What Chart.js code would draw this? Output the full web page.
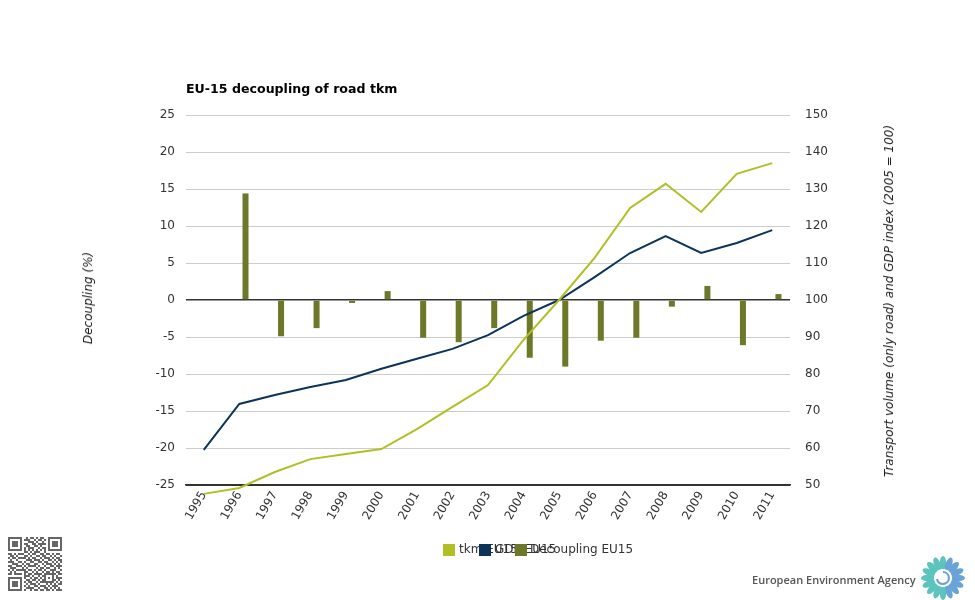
<!DOCTYPE html>
<html>
<head>
<meta charset="utf-8">
<script src="https://cdn.jsdelivr.net/npm/chart.js@4/dist/chart.umd.min.js"></script>
<style>
  html, body { margin: 0; padding: 0; background: #fff; }
  #wrap { position: relative; width: 975px; height: 600px; overflow: hidden; font-family: "DejaVu Sans", Verdana, sans-serif; }
  #c { position: absolute; left: 0; top: 0; }
  .abs { position: absolute; white-space: nowrap; color: #333; }
  #title { left: 186px; top: 81px; font-weight: bold; font-size: 12.6px; color: #000; }
  .ytitle { font-style: italic; font-size: 12px; color: #222; transform-origin: center center; }
  #lt { left: 88px; top: 298px; transform: translate(-50%, -50%) rotate(-90deg); }
  #rt { left: 889px; top: 301px; transform: translate(-50%, -50%) rotate(-90deg); }
  .sw { position: absolute; width: 12px; height: 12px; }
  .lt { position: absolute; font-size: 12px; color: #333; top: 542px; }
  #eea { left: 752px; top: 572px; font-family: "Open Sans", "Liberation Sans", sans-serif; font-weight: 600; font-size: 11px; color: #555; }
</style>
</head>
<body>
<div id="wrap">
  <canvas id="c" width="975" height="600"></canvas>
  <div id="title" class="abs">EU-15 decoupling of road tkm</div>
  <div id="lt" class="abs ytitle">Decoupling (%)</div>
  <div id="rt" class="abs ytitle">Transport volume (only road) and GDP index (2005 = 100)</div>
  <div id="legend"></div>
  <div id="eea" class="abs">European Environment Agency</div>
  <svg id="logo" style="position:absolute;left:920px;top:555px" width="48" height="46" viewBox="0 0 48 46"></svg>
  <svg id="qr" style="position:absolute;left:8px;top:537px" width="54" height="54" viewBox="0 0 27 27"></svg>
</div>
<script>
// ---- data ----
const years = ['1995','1996','1997','1998','1999','2000','2001','2002','2003','2004','2005','2006','2007','2008','2009','2010','2011'];
const tkmEU15 = [47.6, 49.2, 53.5, 57.0, 58.4, 59.7, 65.1, 71.1, 77.0, 89.2, 100, 111.4, 124.9, 131.4, 123.8, 134.1, 137.0];
const gdpEU15 = [59.5, 71.9, 74.3, 76.5, 78.4, 81.4, 84.1, 86.8, 90.5, 95.7, 100, 106.2, 112.7, 117.3, 112.7, 115.4, 118.9];
const decouplingEU15 = [null, 14.4, -4.9, -3.8, -0.4, 1.2, -5.1, -5.7, -3.8, -7.8, -9.0, -5.5, -5.1, -0.9, 1.9, -6.1, 0.8];
const leftTicks = { min: -25, max: 25, step: 5 };
const rightTicks = { min: 50, max: 150, step: 10 };

const seriesNames = ['tkm EU15', 'GDP EU15', 'Decoupling EU15'];
const colors = { tkm: '#b1bf25', gdp: '#0b3458', dec: '#6e7829' };

// ---- legend (HTML, overlapping as in the original) ----
const legend = document.getElementById('legend');
const legItems = [
  { name: seriesNames[0], color: colors.tkm, sx: 443, tx: 459 },
  { name: seriesNames[1], color: colors.gdp, sx: 479, tx: 495 },
  { name: seriesNames[2], color: colors.dec, sx: 515, tx: 530 }
];
legItems.forEach(it => {
  const t = document.createElement('div');
  t.className = 'lt'; t.style.left = it.tx + 'px'; t.textContent = it.name;
  legend.appendChild(t);
});
legItems.forEach(it => {
  const s = document.createElement('div');
  s.className = 'sw'; s.style.left = it.sx + 'px'; s.style.top = '544px'; s.style.background = it.color;
  legend.appendChild(s);
});

// ---- chart ----
Chart.defaults.font.family = '"DejaVu Sans", Verdana, sans-serif';
Chart.defaults.font.size = 12;
Chart.defaults.color = '#333';

new Chart(document.getElementById('c'), {
  data: {
    labels: years,
    datasets: [
      { type: 'line', label: seriesNames[0], data: tkmEU15, yAxisID: 'yR', borderColor: colors.tkm, borderWidth: 2,
        pointRadius: 0, tension: 0, clip: false, order: 0 },
      { type: 'line', label: seriesNames[1], data: gdpEU15, yAxisID: 'yR', borderColor: colors.gdp, borderWidth: 2,
        pointRadius: 0, tension: 0, clip: false, order: 1 },
      { type: 'bar', label: '', data: years.map(() => null), yAxisID: 'yL', backgroundColor: 'rgba(0,0,0,0)',
        categoryPercentage: 0.70, barPercentage: 0.484, order: 2 },
      { type: 'bar', label: seriesNames[2], data: decouplingEU15, yAxisID: 'yL', backgroundColor: colors.dec,
        categoryPercentage: 0.70, barPercentage: 0.484, order: 3 }
    ]
  },
  options: {
    responsive: false,
    animation: false,
    layout: { padding: { top: 115, left: 0, right: 0, bottom: 0 } },
    plugins: { legend: { display: false }, tooltip: { enabled: false }, title: { display: false } },
    scales: {
      x: {
        type: 'category', offset: true,
        grid: { display: false, drawTicks: false },
        border: { display: true, color: '#333', width: 1.5 },
        ticks: { minRotation: 60, maxRotation: 60, padding: 4, color: '#333', font: { size: 12 }, autoSkip: false },
        afterFit: s => { s.height = 600 - 485; }
      },
      yL: {
        position: 'left', min: leftTicks.min, max: leftTicks.max,
        ticks: { stepSize: leftTicks.step, padding: 11, color: '#333', font: { size: 12 } },
        grid: { drawTicks: false, lineWidth: ctx => (ctx.tick && ctx.tick.value === 0) ? 1.5 : 1,
                color: ctx => (ctx.tick && (ctx.tick.value === 0 || ctx.tick.value === leftTicks.min)) ? '#333' : '#cccccc' },
        border: { display: false },
        afterFit: s => { s.width = 186; }
      },
      yR: {
        position: 'right', min: rightTicks.min, max: rightTicks.max,
        ticks: { stepSize: rightTicks.step, padding: 15, color: '#333', font: { size: 12 } },
        grid: { display: false, drawTicks: false },
        border: { display: false },
        afterFit: s => { s.width = 975 - 790; }
      }
    }
  }
});

// ---- EEA logo (decorative) ----
(function () {
  const svg = document.getElementById('logo');
  const ns = 'http://www.w3.org/2000/svg';
  const cx = 23, cy = 23;
  for (let i = 0; i < 16; i++) {
    const a = i * 22.5;
    const e = document.createElementNS(ns, 'ellipse');
    e.setAttribute('cx', cx); e.setAttribute('cy', cy - 15);
    e.setAttribute('rx', 3.2); e.setAttribute('ry', 7);
    const teal = (a >= 180 || a < 22.5);
    e.setAttribute('fill', teal ? '#5cc3bd' : '#6aa3d6');
    e.setAttribute('transform', `rotate(${a} ${cx} ${cy})`);
    svg.appendChild(e);
  }
  const c = document.createElementNS(ns, 'circle');
  c.setAttribute('cx', cx); c.setAttribute('cy', cy); c.setAttribute('r', 9); c.setAttribute('fill', '#fff');
  svg.appendChild(c);
  const p = document.createElementNS(ns, 'path');
  p.setAttribute('d', `M ${cx} ${cy - 6} A 6 6 0 1 1 ${cx - 6} ${cy + 1}`);
  p.setAttribute('stroke', '#6aa3d6'); p.setAttribute('stroke-width', 2.2); p.setAttribute('fill', 'none');
  svg.appendChild(p);
})();

// ---- QR-like decoration ----
(function () {
  const svg = document.getElementById('qr');
  const ns = 'http://www.w3.org/2000/svg';
  const rows = [
    '111111100101101011001111111','100000101110010110101000001','101110100011101001001011101','101110101100110111101011101',
    '101110100110011010001011101','100000101011100101101000001','111111101010101010101111111','000000001101011100100000000',
    '110101110010110011011010110','011010001101001101100101001','101101111010110010111010110','010010000111011101001101011',
    '111001101001100110110010101','001110010110011001011101010','110011101011110100100110111','011100010100001011011001010',
    '101011111011010110100111001','010100001100101001011010110','110111101011011110111111011','000000001110100101100010100',
    '111111101001011010101010111','100000100110110101100011010','101110101011001011111110101','101110100101110100010101011',
    '101110101010011011101011100','100000100111100100110101010','111111101001011011011010111'
  ];
  rows.forEach((r, y) => {
    for (let x = 0; x < r.length; x++) {
      if (r[x] === '1') {
        const q = document.createElementNS(ns, 'rect');
        q.setAttribute('x', x); q.setAttribute('y', y); q.setAttribute('width', 1); q.setAttribute('height', 1);
        q.setAttribute('fill', '#666');
        svg.appendChild(q);
      }
    }
  });
})();
</script>
</body>
</html>
